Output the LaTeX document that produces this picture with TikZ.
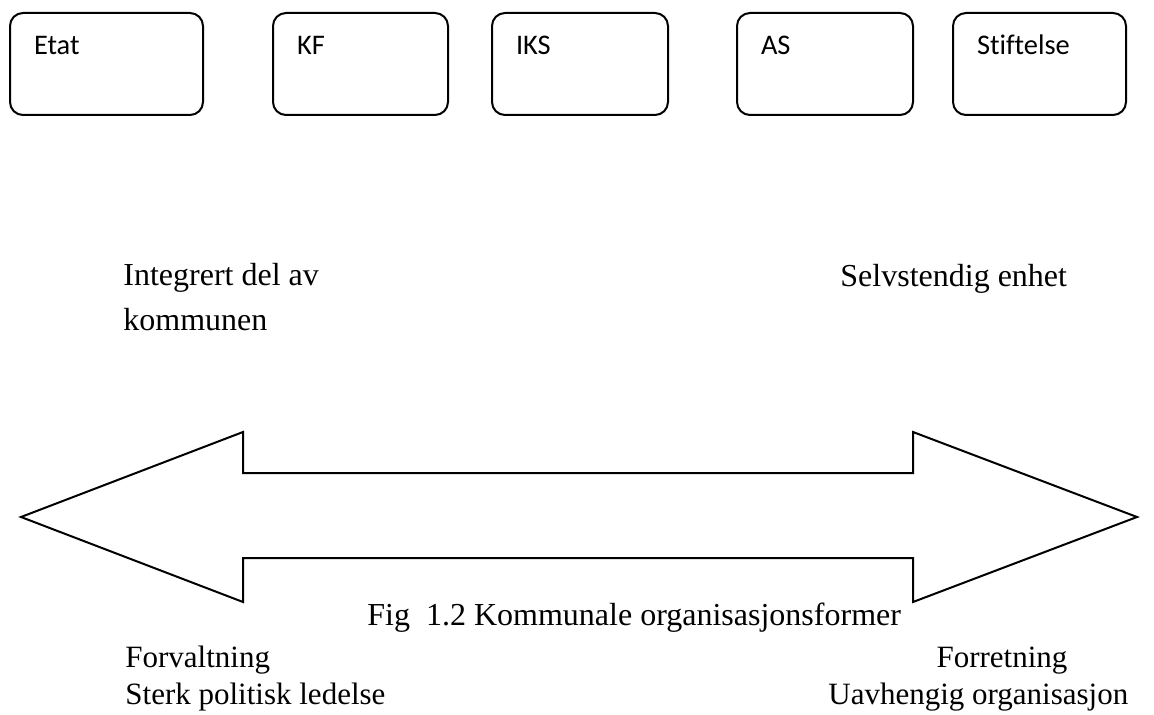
\documentclass[tikz,border=0pt]{standalone}
\usepackage{fontspec}
\setmainfont{Liberation Serif}
\newfontfamily\boxfont[Ligatures=CommonOff]{Carlito}
\usetikzlibrary{positioning}
\tikzset{orgform/.style={rectangle, draw=black, line width=1pt,
    rounded corners=6.5pt, anchor=north west, align=left,
    font=\boxfont\fontsize{14.2}{17}\selectfont,
    inner xsep=12pt, inner ysep=0pt,
    text height=21pt, text depth=30pt, text width=#1},
  axislabel/.style={anchor=base west, inner sep=0pt, align=left,
    font=\fontsize{16}{22.5}\selectfont},
  poletext/.style={inner sep=0pt, align=left,
    font=\fontsize{15.5}{18.5}\selectfont},
  bigarrow/.style={draw=black, line width=1pt, line join=miter}
}

\begin{document}
\begin{tikzpicture}[x=0.5pt, y=-0.5pt]
  \useasboundingbox (0,0) rectangle (1154,715);

  %Organisation forms
  \node[orgform=72.5pt] (etat) at (9,12) {Etat};
  \node[orgform=63.5pt] (kf) at (272,12) {KF};
  \node[orgform=64pt] (iks) at (491,12) {IKS};
  \node[orgform=64pt] (as) at (736,12) {AS};
  \node[orgform=62.5pt] (stiftelse) at (952,12) {Stiftelse};

  %Ends of the scale (base = last line)
  \node[axislabel] (integrert) at (123,331) {Integrert del av\\kommunen};
  \node[axislabel] (selvstendig) at (840,287) {Selvstendig enhet};

  %Double arrow
  \draw[bigarrow] (21,517) -- (243,432) -- (243,473) -- (913,473)
    -- (913,432) -- (1137,517) -- (913,602) -- (913,558)
    -- (243,558) -- (243,602) -- cycle;

  %Caption
  \node[axislabel] (caption) at (367,625)
    {Fig\ \ 1.2 Kommunale organisasjonsformer};

  %Left pole
  \node[poletext, anchor=base west] (forvaltning) at (125,704)
    {Forvaltning\\Sterk politisk ledelse};
  %Right pole
  \node[poletext, anchor=base] (forretning) at (1002,667) {Forretning};
  \node[poletext, anchor=base west] (uavhengig) at (828,704)
    {Uavhengig organisasjon};
\end{tikzpicture}
\end{document}
